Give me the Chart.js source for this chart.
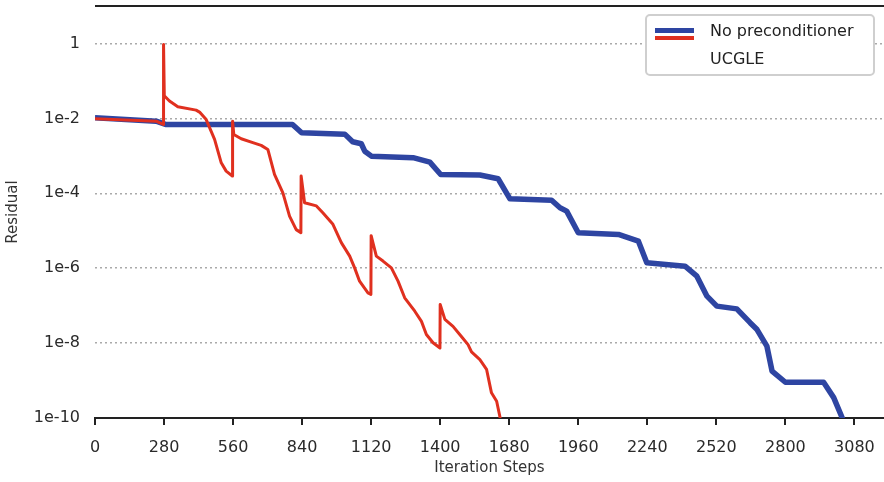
<!DOCTYPE html>
<html>
<head>
<meta charset="utf-8">
<script src="https://cdn.jsdelivr.net/npm/chart.js@4/dist/chart.umd.min.js"></script>
<style>
  html, body { margin: 0; padding: 0; background: #fff; }
  #wrap { width: 884px; height: 482px; }
</style>
</head>
<body>
<div id="wrap"><canvas id="myChart" width="884" height="482"></canvas></div>
<script>
// series labels
const seriesNames = ["No preconditioner", "UCGLE"];

// no preconditioner (blue)
const blueIter = [0, 248, 286, 801, 838, 1013, 1045, 1080, 1094, 1121, 1290, 1358, 1402, 1561, 1635, 1683,
  1852, 1886, 1913, 1960, 2123, 2204, 2238, 2393, 2441, 2482, 2522, 2603, 2657, 2685, 2725, 2746,
  2800, 2955, 2996, 3030, 3045];
const blueResid = [0.0104, 0.0084, 0.00687, 0.00687, 0.00412, 0.00379, 0.00237, 0.0021, 0.00133, 0.00098,
  0.00089, 0.000676, 0.000318, 0.000308, 0.000244, 7.13e-5, 6.54e-5, 4.1e-5, 3.33e-5, 8.8e-6, 7.94e-6,
  5.26e-6, 1.39e-6, 1.13e-6, 6.1e-7, 1.79e-7, 9.7e-8, 8.2e-8, 3.5e-8, 2.3e-8, 8.3e-9, 1.78e-9,
  9.0e-10, 9.0e-10, 3.5e-10, 1.03e-10, 5e-11];

// UCGLE (red)
const redIter = [0, 248, 277, 278, 281, 302, 336, 410, 424, 451, 485, 512, 532, 557, 558, 563, 593, 640,
  674, 701, 728, 762, 789, 816, 835, 836, 850, 898, 924, 965, 999, 1033, 1053, 1073, 1107, 1119, 1120,
  1141, 1168, 1202, 1229, 1256, 1297, 1324, 1344, 1371, 1399, 1400, 1419, 1452, 1486, 1513, 1527,
  1561, 1588, 1608, 1629, 1642, 1650];
const redResid = [0.0098, 0.0084, 0.0069, 0.94, 0.04, 0.029, 0.0204, 0.0166, 0.0147, 0.0093, 0.00275,
  6.5e-4, 3.9e-4, 2.9e-4, 0.0084, 0.0037, 0.00285, 0.00224, 0.0019, 0.00148, 3.2e-4, 1.02e-4, 2.45e-5,
  1.07e-5, 8.9e-6, 2.9e-4, 5.6e-5, 4.6e-5, 3.0e-5, 1.48e-5, 4.8e-6, 2.1e-6, 1.02e-6, 4.5e-7, 2.2e-7,
  2.0e-7, 7.4e-6, 2.1e-6, 1.55e-6, 1.02e-6, 4.5e-7, 1.62e-7, 7.1e-8, 3.8e-8, 1.7e-8, 1.02e-8, 7.4e-9,
  1.07e-7, 4.3e-8, 2.8e-8, 1.5e-8, 9.1e-9, 5.8e-9, 3.6e-9, 2.0e-9, 4.7e-10, 2.8e-10, 1.1e-10, 5e-11];

// axis ticks
const xTicks = [0, 280, 560, 840, 1120, 1400, 1680, 1960, 2240, 2520, 2800, 3080];
const yTicks = [1e-10, 1e-8, 1e-6, 1e-4, 1e-2, 1];
const yTickLabels = ["1e-10", "1e-8", "1e-6", "1e-4", "1e-2", "1"];

const BLUE = "#2e45a2";
const RED = "#e0301f";
const FONT = "'DejaVu Sans', Verdana, sans-serif";

function pts(xs, ys) {
  return xs.map((x, i) => ({ x: x, y: ys[i] }));
}

// top frame line + legend box
const extras = {
  id: "extras",
  afterDraw(chart) {
    const c = chart.ctx;
    const a = chart.chartArea;
    c.save();
    c.strokeStyle = "#222";
    c.lineWidth = 2;
    c.beginPath();
    c.moveTo(a.left, a.top);
    c.lineTo(a.right, a.top);
    c.stroke();

    // legend
    const bx = 646, by = 15, bw = 228, bh = 60;
    c.fillStyle = "#fff";
    c.strokeStyle = "#cfcfcf";
    c.lineWidth = 2;
    c.beginPath();
    c.roundRect(bx, by, bw, bh, 4);
    c.fill();
    c.stroke();
    c.fillStyle = BLUE;
    c.fillRect(655, 28, 39, 5);
    c.fillStyle = RED;
    c.fillRect(655, 36, 39, 4);
    c.fillStyle = "#222";
    c.font = "16px " + FONT;
    c.textBaseline = "middle";
    c.textAlign = "left";
    c.fillText(chart.data.datasets[0].label, 710, 32);
    c.fillText(chart.data.datasets[1].label, 710, 60);
    c.restore();
  }
};

const ctx = document.getElementById("myChart").getContext("2d");

const chart = new Chart(ctx, {
  type: "line",
  data: {
    datasets: [
      {
        label: seriesNames[0],
        data: pts(blueIter, blueResid),
        borderColor: BLUE,
        borderWidth: 5.5,
        pointRadius: 0,
        tension: 0,
        borderJoinStyle: "round",
        order: 2
      },
      {
        label: seriesNames[1],
        data: pts(redIter, redResid),
        borderColor: RED,
        borderWidth: 3,
        pointRadius: 0,
        tension: 0,
        borderJoinStyle: "round",
        order: 1
      }
    ]
  },
  options: {
    responsive: false,
    animation: false,
    layout: { padding: { top: 6, right: 0, bottom: 0, left: 0 } },
    plugins: {
      legend: { display: false },
      tooltip: { enabled: false }
    },
    scales: {
      x: {
        type: "linear",
        min: 0,
        max: 3200,
        afterBuildTicks: (s) => { s.ticks = xTicks.map(v => ({ value: v })); },
        afterFit: (s) => { s.height = 64; s.paddingLeft = 0; s.paddingRight = 0; },
        border: { display: true, color: "#222", width: 2 },
        grid: { drawOnChartArea: false, drawTicks: true, tickLength: 7, color: "#222", lineWidth: 2 },
        ticks: {
          color: "#2a2a2a",
          font: { family: FONT, size: 16 },
          padding: 13,
          maxRotation: 0,
          callback: (v) => String(v)
        },
        title: {
          display: true,
          text: "Iteration Steps",
          color: "#333",
          font: { family: FONT, size: 15 },
          padding: { top: 0, bottom: 5 }
        }
      },
      y: {
        type: "logarithmic",
        min: 1e-10,
        max: 10,
        afterBuildTicks: (s) => { s.ticks = yTicks.map(v => ({ value: v })); },
        afterFit: (s) => { s.width = 95; s.paddingTop = 0; s.paddingBottom = 0; },
        border: { display: false, dash: [2, 3] },
        grid: { color: "#aaaaaa", lineWidth: 1.5, drawTicks: false },
        ticks: {
          color: "#2a2a2a",
          font: { family: FONT, size: 16 },
          padding: 15,
          callback: (v) => {
            const i = yTicks.findIndex(t => Math.abs(Math.log10(t) - Math.log10(v)) < 1e-6);
            return i >= 0 ? yTickLabels[i] : "";
          }
        },
        title: {
          display: true,
          text: "Residual",
          color: "#333",
          font: { family: FONT, size: 15 },
          padding: { top: 4, bottom: 0 }
        }
      }
    }
  },
  plugins: [extras]
});
</script>
</body>
</html>
